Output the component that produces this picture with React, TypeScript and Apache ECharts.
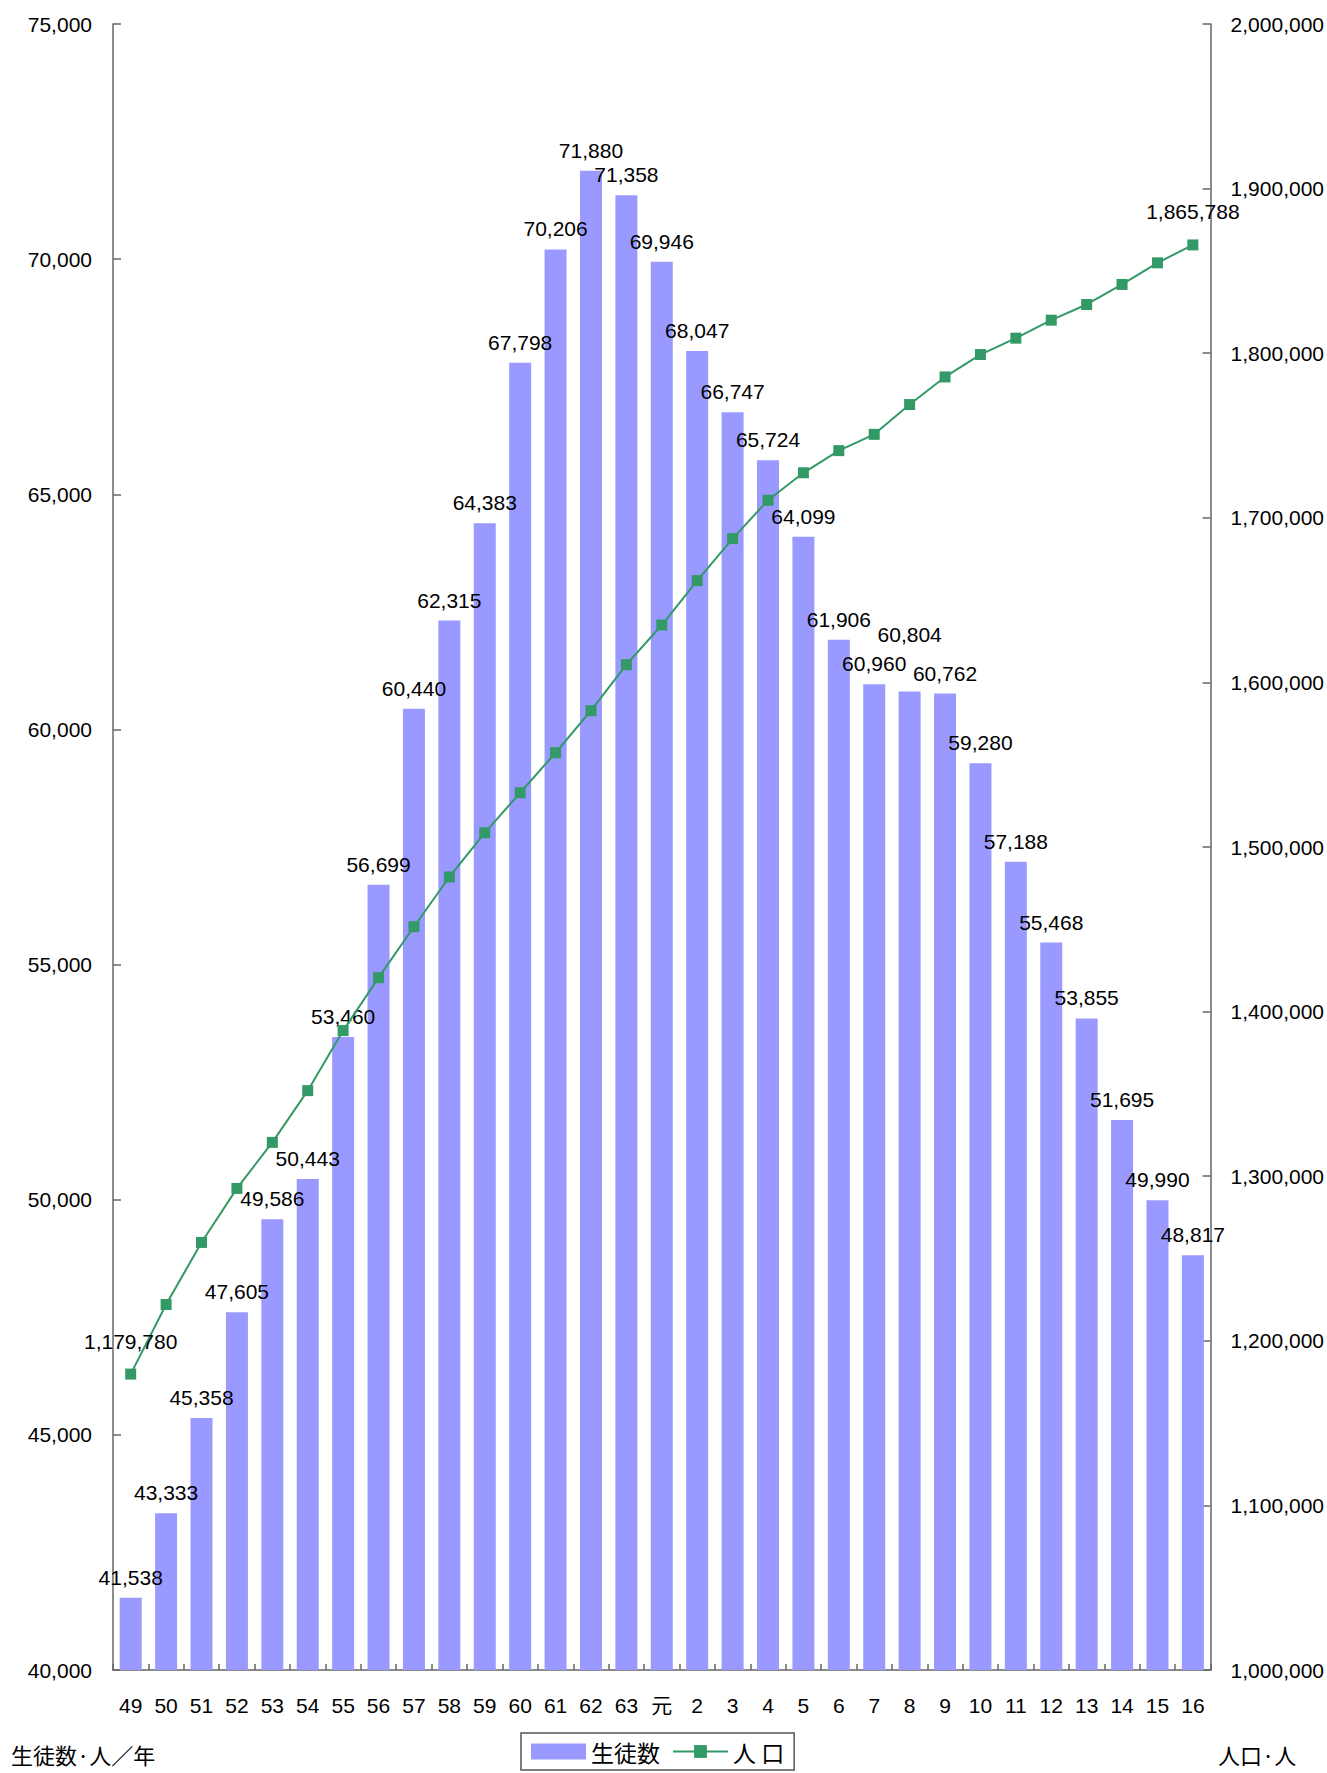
import React, { useEffect, useRef } from "react";
import * as echarts from "echarts";

const categories = [
  "49", "50", "51", "52", "53", "54", "55", "56", "57", "58", "59", "60", "61", "62", "63",
  "元", "2", "3", "4", "5", "6", "7", "8", "9", "10", "11", "12", "13", "14", "15", "16",
];

const students = [
  41538, 43333, 45358, 47605, 49586, 50443, 53460, 56699, 60440, 62315, 64383, 67798, 70206, 71880, 71358,
  69946, 68047, 66747, 65724, 64099, 61906, 60960, 60804, 60762, 59280, 57188, 55468, 53855, 51695, 49990, 48817,
];

const population = [
  1179780, 1222070, 1259760, 1292580, 1320550, 1351980, 1388450, 1420620, 1451550, 1481790, 1508630,
  1532950, 1557270, 1582800, 1610760, 1634850, 1661820, 1687360, 1710640, 1727350, 1740800, 1750700,
  1768810, 1785590, 1799190, 1809120, 1820060, 1829600, 1841760, 1854900, 1865788,
];

const studentName = "生徒数";
const populationName = "人 口";
const leftUnit = "生徒数·人／年";
const rightUnit = "人口·人";

const fmt = (v: number) => Math.round(v).toLocaleString("en-US");

const NUM_FONT = "'Liberation Sans', Arial, 'Noto Sans CJK JP', sans-serif";
const CJK_FONT = "'Noto Sans CJK JP', 'Liberation Sans', sans-serif";

export default function App() {
  const ref = useRef<HTMLDivElement>(null);

  useEffect(() => {
    document.body.style.margin = "0";
    if (!ref.current) return;
    const chart = echarts.init(ref.current, undefined, { renderer: "svg" });
    const axisColor = "#666666";
    const lastIdx = population.length - 1;

    const barData = students.map((v, i) =>
      categories[i] === "8" ? { value: v, label: { distance: 47 } } : v
    );
    const lineData = population.map((v, i) =>
      i === 0 || i === lastIdx ? { value: v, label: { show: true } } : v
    );

    chart.setOption({
      animation: false,
      backgroundColor: "#ffffff",
      textStyle: { fontFamily: NUM_FONT },
      grid: { left: 113, right: 116, top: 24, bottom: 103, containLabel: false },
      legend: {
        left: 521,
        top: 1733,
        orient: "horizontal",
        itemWidth: 55,
        itemHeight: 16,
        itemGap: 12,
        padding: [7, 10],
        borderColor: "#555555",
        borderWidth: 1.5,
        backgroundColor: "#ffffff",
        textStyle: { fontSize: 23, fontFamily: CJK_FONT, color: "#000" },
        data: [{ name: studentName, icon: "rect" }, { name: populationName }],
      },
      xAxis: {
        type: "category",
        data: categories,
        axisLine: { show: true, lineStyle: { color: axisColor, width: 1.5 } },
        axisTick: { show: true, inside: true, length: 6, lineStyle: { color: axisColor, width: 1.5 } },
        axisLabel: { fontSize: 21, color: "#000", margin: 25, interval: 0, fontFamily: NUM_FONT },
        splitLine: { show: false },
      },
      yAxis: [
        {
          type: "value",
          position: "left",
          min: 40000,
          max: 75000,
          interval: 5000,
          axisLine: { show: true, lineStyle: { color: axisColor, width: 1.5 } },
          axisTick: { show: true, inside: true, length: 8, lineStyle: { color: axisColor, width: 1.5 } },
          axisLabel: { fontSize: 21, color: "#000", margin: 21, formatter: (v: number) => fmt(v) },
          splitLine: { show: false },
        },
        {
          type: "value",
          position: "right",
          min: 1000000,
          max: 2000000,
          interval: 100000,
          axisLine: { show: true, lineStyle: { color: axisColor, width: 1.5 } },
          axisTick: { show: true, inside: true, length: 8, lineStyle: { color: axisColor, width: 1.5 } },
          axisLabel: { fontSize: 21, color: "#000", margin: 20, formatter: (v: number) => fmt(v) },
          splitLine: { show: false },
        },
      ],
      series: [
        {
          name: studentName,
          type: "bar",
          data: barData,
          barWidth: 22,
          itemStyle: { color: "#9999ff" },
          label: {
            show: true,
            position: "top",
            distance: 10,
            fontSize: 21,
            color: "#000",
            fontFamily: NUM_FONT,
            formatter: (p: any) => fmt(p.value),
          },
        },
        {
          name: populationName,
          type: "line",
          yAxisIndex: 1,
          data: lineData,
          symbol: "rect",
          symbolSize: 11,
          showAllSymbol: true,
          lineStyle: { color: "#339966", width: 2 },
          itemStyle: { color: "#339966" },
          label: {
            show: false,
            position: "top",
            distance: 17,
            fontSize: 21,
            color: "#000",
            fontFamily: NUM_FONT,
            formatter: (p: any) => fmt(p.value),
          },
          z: 3,
        },
      ],
      graphic: [
        {
          type: "text",
          left: 11,
          top: 1743,
          style: { text: leftUnit, fontSize: 22, fontFamily: CJK_FONT, fill: "#000" },
        },
        {
          type: "text",
          left: 1218,
          top: 1743,
          style: { text: rightUnit, fontSize: 22, fontFamily: CJK_FONT, fill: "#000" },
        },
      ],
    });

    return () => chart.dispose();
  }, []);

  return <div ref={ref} style={{ width: 1327, height: 1773 }} />;
}
